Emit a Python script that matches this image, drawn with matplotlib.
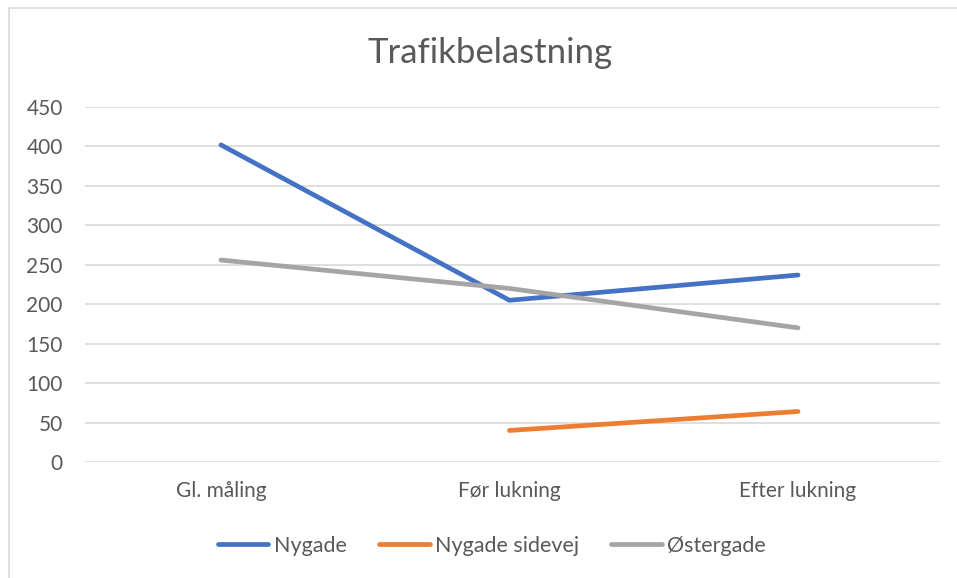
import numpy as np
import matplotlib.pyplot as plt
from matplotlib.patches import Rectangle

# Data
categories = ['Gl. måling', 'Før lukning', 'Efter lukning']
nygade = [402, 205, 237]
nygade_sidevej = [np.nan, 40, 64]
ostergade = [256, 220, 170]
yticks = [0, 50, 100, 150, 200, 250, 300, 350, 400, 450]

plt.rcParams['font.family'] = ['Lato', 'DejaVu Sans']

fig = plt.figure(figsize=(9.57, 5.78), dpi=100)
ax = fig.add_axes([85/957, 1-462/578, (940-85)/957, (462-107)/578])

# chart border, as in the Excel chart object
fig.patches.append(Rectangle((9/957, -0.1), 1.2, 1-8/578+0.1, transform=fig.transFigure,
                             fill=False, edgecolor='#d9d9d9', linewidth=1.2))

x = np.arange(len(categories))
lw = 3.4
ax.plot(x, nygade, color='#4472c4', lw=lw, solid_capstyle='round', solid_joinstyle='miter', label='Nygade')
ax.plot(x, nygade_sidevej, color='#ed7d31', lw=lw, solid_capstyle='round', label='Nygade sidevej')
ax.plot(x, ostergade, color='#a5a5a5', lw=lw, solid_capstyle='round', label='Østergade')

ax.set_xlim(-0.471, 2.492)
ax.set_ylim(0, 450)
ax.set_yticks(yticks)
ax.set_xticks(x)
ax.set_xticklabels(categories)
ax.grid(axis='y', color='#d9d9d9', lw=1.2)
ax.set_axisbelow(True)
for s in ax.spines.values():
    s.set_visible(False)
ax.tick_params(length=0, labelsize=15, labelcolor='#595959')
ax.tick_params(axis='x', pad=14)
ax.tick_params(axis='y', pad=16)

fig.text(490/957, 1-53/578, 'Trafikbelastning', ha='center', va='center', fontsize=25, color='#595959')

fig.legend(loc='center', bbox_to_anchor=(492/957, 1-546/578), ncol=3, frameon=False,
           fontsize=15.5, handlelength=2.35, handletextpad=0.25, columnspacing=1.5,
           labelcolor='#595959')

fig.savefig('out.png', dpi=100)
